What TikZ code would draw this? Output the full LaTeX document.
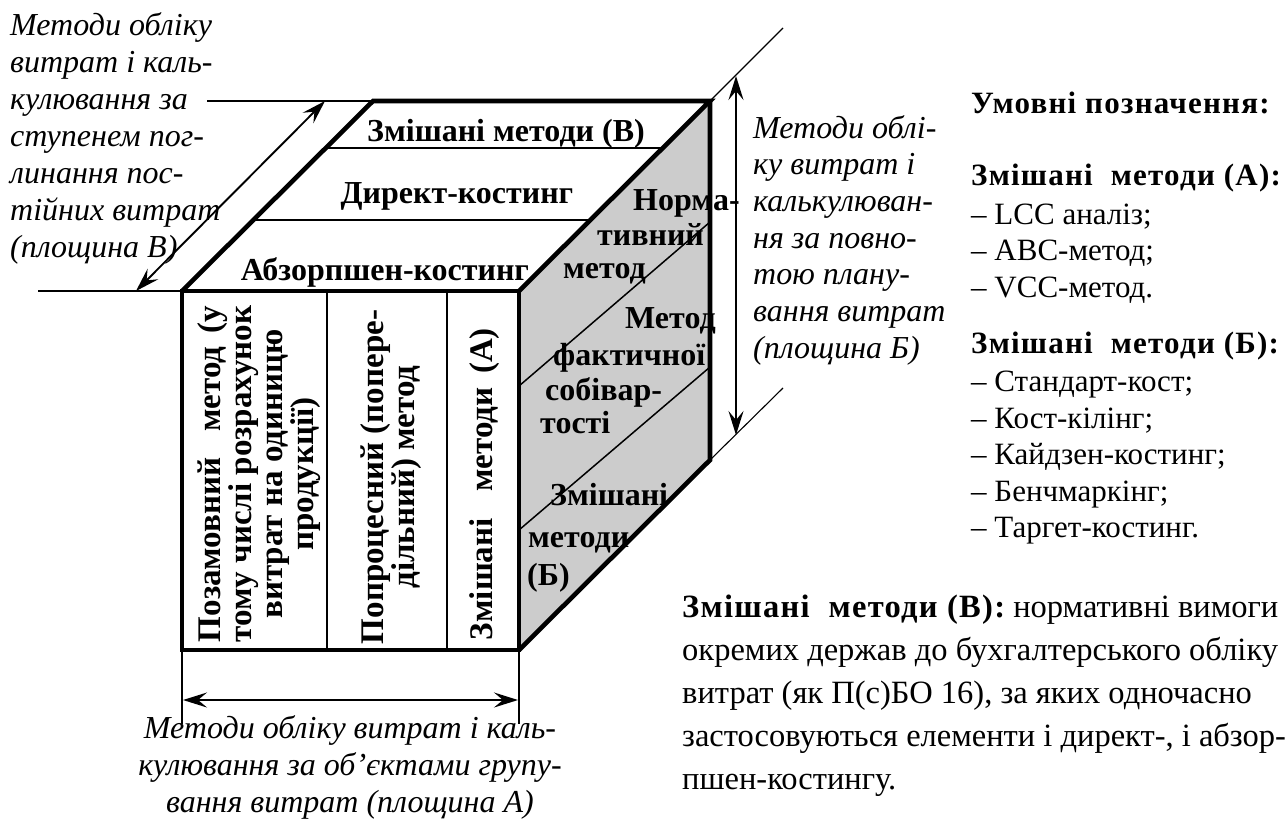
\documentclass[tikz,border=0pt]{standalone}
\usepackage{fontspec}
\setmainfont{Liberation Serif}
\usetikzlibrary{arrows.meta,calc}
\begin{document}
\begin{tikzpicture}[x=1pt,y=-1pt,
 thickedge/.style={line width=4.6pt,line join=miter},
 divline/.style={line width=1.9pt},
 diagline/.style={line width=1.5pt},
 guide/.style={line width=1.1pt},
 dimarrow/.style={line width=1.9pt,{Stealth[length=24pt,width=15pt,inset=9pt]}-{Stealth[length=24pt,width=15pt,inset=9pt]}},
 ital/.style={font=\itshape\fontsize{32}{37}\selectfont,inner sep=0pt},
 facebold/.style={font=\bfseries\fontsize{32}{36}\selectfont,inner sep=0pt,anchor=base west},
 colbold/.style={font=\bfseries\fontsize{33}{31}\selectfont,inner sep=0pt,rotate=90,align=center},
 legend/.style={font=\fontsize{31}{36}\selectfont,inner sep=0pt,anchor=base west},
 legendhead/.style={font=\bfseries\fontsize{31}{36}\selectfont\addfontfeatures{LetterSpace=4},inner sep=0pt,anchor=base west},
 para/.style={font=\fontsize{32.5}{43}\selectfont,inner sep=0pt,anchor=base west}
]
\fill[white] (0,0) rectangle (1285,820);
\useasboundingbox (0,0) rectangle (1285,820);

% cube corners
\coordinate (FTL) at (182,291);
\coordinate (FTR) at (519,291);
\coordinate (FBR) at (519,650);
\coordinate (FBL) at (182,650);
\coordinate (BTL) at (373,101);
\coordinate (BTR) at (710,101);
\coordinate (BBR) at (710,460);

% right face
\fill[gray!40] (FTR)--(BTR)--(BBR)--(FBR)--cycle;
\coordinate (R1a) at (710,222); \coordinate (R1b) at (519,386);
\coordinate (R2a) at (710,367); \coordinate (R2b) at (519,530);
\draw[diagline] (R1a)--(R1b);
\draw[diagline] (R2a)--(R2b);

% top face dividers
\draw[divline] ($(FTL)!0.374!(BTL)$) coordinate (T1l) -- ($(FTR)!0.374!(BTR)$) coordinate (T1r);
\draw[divline] ($(FTL)!0.753!(BTL)$) coordinate (T2l) -- ($(FTR)!0.753!(BTR)$) coordinate (T2r);

% front face dividers
\coordinate (V1t) at (327,291); \coordinate (V1b) at (327,650);
\coordinate (V2t) at (447,291); \coordinate (V2b) at (447,650);
\draw[divline] (V1t)--(V1b);
\draw[divline] (V2t)--(V2b);

% outline
\draw[thickedge] (FTL) rectangle (FBR);
\draw[thickedge] (FTL)--(BTL)--(BTR)--(FTR);
\draw[thickedge] (BTR)--(BBR)--(FBR);

% guide lines
\coordinate (GUL) at (207,101); \draw[guide] (GUL)--(BTL);
\coordinate (GLL) at (38,291);  \draw[guide] (GLL)--(FTL);
\coordinate (GUR) at (783,28);  \draw[guide] (BTR)--(GUR);
\coordinate (GLR) at (783,388); \draw[guide] (BBR)--(GLR);
\coordinate (GBL) at (182,724); \draw[guide] (FBL)--(GBL);
\coordinate (GBR) at (519,724); \draw[guide] (FBR)--(GBR);

% dimension arrows
\coordinate (AD1) at (136,291); \coordinate (AD2) at (325,101);
\draw[dimarrow] (AD1)--(AD2);
\coordinate (AV1) at (736,76); \coordinate (AV2) at (736,435);
\draw[dimarrow] (AV1)--(AV2);
\coordinate (AH1) at (183,700); \coordinate (AH2) at (518,700);
\draw[dimarrow] (AH1)--(AH2);

% top face texts
\node[facebold,anchor=base] (tv) at (506,141) {Змішані методи (В)};
\node[facebold,anchor=base] (td) at (457,203) {Директ-костинг};
\node[facebold,anchor=base] (ta) at (385,280) {Абзорпшен-костинг};

% front face texts
\node[colbold] (c1) at (259,474) {\makebox[336pt][s]{Позамовний\ \ метод (у}\\ тому числі розрахунок\\ витрат на одиницю\\ продукції)};
\node[colbold] (c2) at (391,477) {Попроцесний (попере-\\ дільний) метод};
\node[colbold] (c3) at (485,484) {\makebox[312pt][s]{Змішані\ \ методи (А)}};

% right face texts
\node[facebold] (r1) at (633,210) {Норма-};
\node[facebold] (r2) at (597,245) {тивний};
\node[facebold] (r3) at (563,278) {метод};
\node[facebold] (r4) at (625,328) {Метод};
\node[facebold] (r5) at (553,365) {фактичної};
\node[facebold] (r6) at (545,400) {собівар-};
\node[facebold] (r7) at (540,433) {тості};
\node[facebold] (r8) at (550,505) {Змішані};
\node[facebold] (r9) at (528,547) {методи};
\node[facebold] (r10) at (527,585) {(Б)};

% left label
\foreach \t [count=\i] in {Методи обліку, витрат і каль-, кулювання за, ступенем пог-, линання пос-, тійних витрат, (площина В)}
  \node[ital,anchor=base west] (lb\i) at (10,{35+37*(\i-1)}) {\t};

% right label
\foreach \t [count=\i] in {Методи облі-, ку витрат і, калькулюван-, ня за повно-, тою плану-, вання витрат, (площина Б)}
  \node[ital,anchor=base west] (rb\i) at (753,{138+36.7*(\i-1)}) {\t};

% bottom label
\foreach \t [count=\i] in {Методи обліку витрат і каль-, кулювання за об’єктами групу-, вання витрат (площина А)}
  \node[ital,anchor=base] (bb\i) at (350,{738+37*(\i-1)}) {\t};

% legend
\node[legendhead] (g1) at (971,113) {Умовні позначення:};
\node[legendhead] (g2) at (971,185) {Змішані\ \ методи (А):};
\node[legend] (g3) at (971,224) {– LCC аналіз;};
\node[legend] (g4) at (971,260) {– ABC-метод;};
\node[legend] (g5) at (971,297) {– VCC-метод.};
\node[legendhead] (g6) at (971,353) {Змішані\ \ методи (Б):};
\node[legend] (g7) at (971,391) {– Стандарт-кост;};
\node[legend] (g8) at (971,428) {– Кост-кілінг;};
\node[legend] (g9) at (971,464) {– Кайдзен-костинг;};
\node[legend] (g10) at (971,501) {– Бенчмаркінг;};
\node[legend] (g11) at (971,537) {– Таргет-костинг.};

% paragraph
\node[para] (p1) at (682,617) {{\bfseries\addfontfeatures{LetterSpace=4}Змішані\ \ методи (В):} нормативні вимоги};
\node[para] (p2) at (682,660) {окремих держав до бухгалтерського обліку};
\node[para] (p3) at (682,703) {витрат (як П(с)БО 16), за яких одночасно};
\node[para] (p4) at (682,746) {застосовуються елементи і директ-, і абзор-};
\node[para] (p5) at (682,789) {пшен-костингу.};
\end{tikzpicture}
\end{document}
